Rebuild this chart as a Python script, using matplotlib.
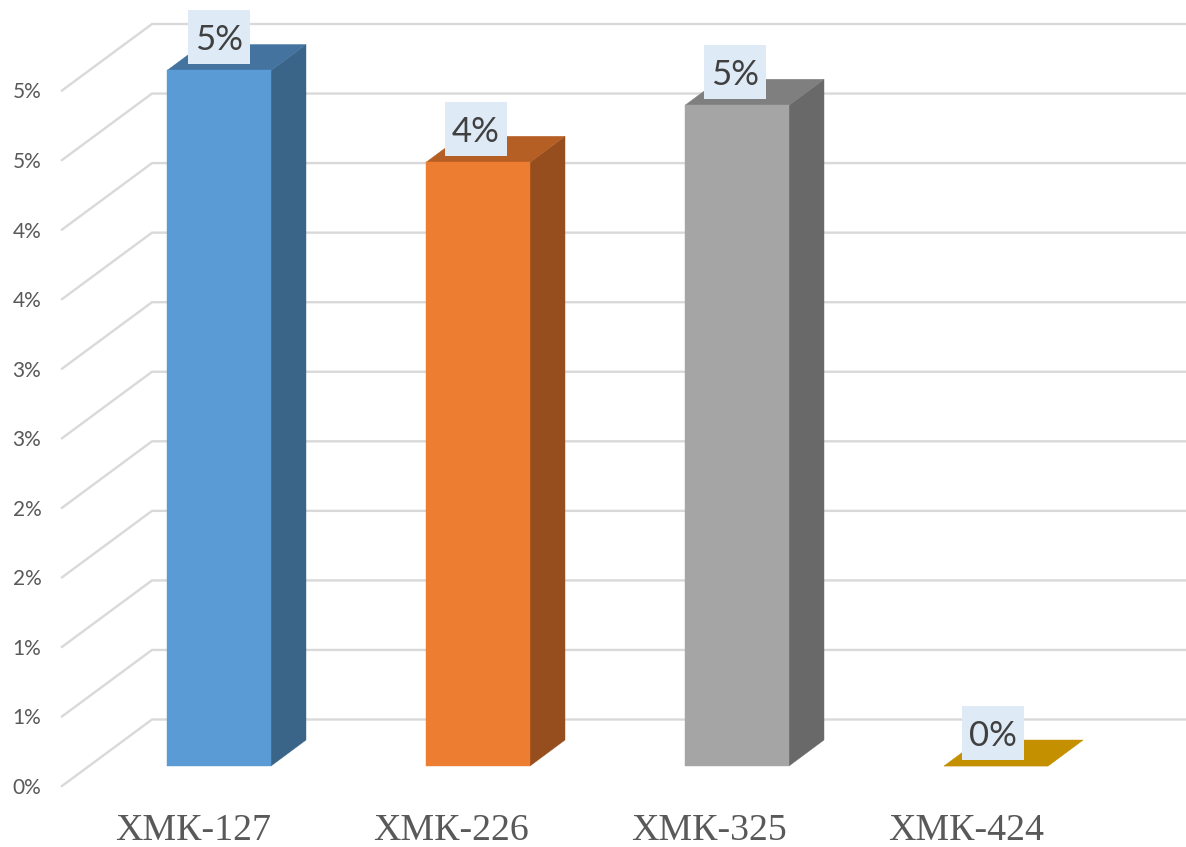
import matplotlib
matplotlib.use("Agg")
import matplotlib.pyplot as plt
from matplotlib.patches import Polygon, Rectangle

categories = ["ХМК-127", "ХМК-226", "ХМК-325", "ХМК-424"]
values = [5.0, 4.34, 4.75, 0.0]
value_labels = ["5%", "4%", "5%", "0%"]
tick_values = [0, 0.5, 1, 1.5, 2, 2.5, 3, 3.5, 4, 4.5, 5]
tick_labels = ["0%", "1%", "1%", "2%", "2%", "3%", "3%", "4%", "4%", "5%", "5%"]
front_colors = ["#5B9BD5", "#ED7D31", "#A5A5A5", "#C49000"]
top_colors = ["#44739F", "#B55F25", "#7F7F7F", "#C49000"]
side_colors = ["#3A6488", "#964E1E", "#696969", "#C49000"]

W, H = 1186, 847
PX_X, PX_Y = 259.0, 139.1      # pixels per category / per percent
X0, Y0 = 219.0, 766.0          # pixel of first category centre, bar base

fig = plt.figure(figsize=(W / 100, H / 100), dpi=100)
ax = fig.add_axes([0, 0, 1, 1])
ax.set_xlim(-X0 / PX_X, (W - X0) / PX_X)
ax.set_ylim((Y0 - H) / PX_Y, Y0 / PX_Y)
ax.axis("off")

dxp = lambda p: p / PX_X
dyp = lambda p: p / PX_Y

# walls / gridlines
wall_left = dxp(152 - X0)
floor_left = dxp(62 - X0)
wall_right = dxp(1185 - X0)
wall_off = dyp(766 - 719.5)
front_off = dyp(766 - 786)
for v, lab in zip(tick_values, tick_labels):
    ax.plot([floor_left, wall_left, wall_right], [v + front_off, v + wall_off, v + wall_off],
            color="#D9D9D9", lw=1.7, zorder=1, solid_joinstyle="miter")
    ax.text(dxp(27 - X0), v + front_off, lab, ha="center", va="center_baseline",
            fontsize=15, color="#595959", family="Lato", zorder=5)

# bars
half = dxp(52)
ddx, ddy = dxp(35), dyp(26)
for i, (v, fc, tc, sc) in enumerate(zip(values, front_colors, top_colors, side_colors)):
    l, r = i - half, i + half
    ax.add_patch(Polygon([(r, 0), (r + ddx, ddy), (r + ddx, v + ddy), (r, v)], fc=sc, ec=sc, lw=0.3, zorder=2))
    ax.add_patch(Polygon([(l, v), (r, v), (r + ddx, v + ddy), (l + ddx, v + ddy)], fc=tc, ec=tc, lw=0.3, zorder=2))
    ax.add_patch(Rectangle((l, 0), r - l, v, fc=fc, ec=fc, lw=0.3, zorder=3))

# data labels
label_shift_px = [0, -2, -2, -3]
for i, (v, lab, s) in enumerate(zip(values, value_labels, label_shift_px)):
    cx = i + dxp(s)
    cy = v + dyp(33.5)
    ax.add_patch(Rectangle((cx - dxp(31), cy - dyp(27)), dxp(62), dyp(54), fc="#DEEAF6", ec="none", zorder=6))
    ax.text(cx, cy, lab, ha="center", va="center_baseline", fontsize=25, color="#404040",
            family="Lato", zorder=7)

# category labels
for i, c in enumerate(categories):
    ax.text(dxp(193.5 + 257.7 * i - X0), dyp(766 - 830.5), c, ha="center", va="center", fontsize=27.3,
            color="#595959", family="Liberation Serif", zorder=5)

fig.savefig("out.png", dpi=100, facecolor="white")
